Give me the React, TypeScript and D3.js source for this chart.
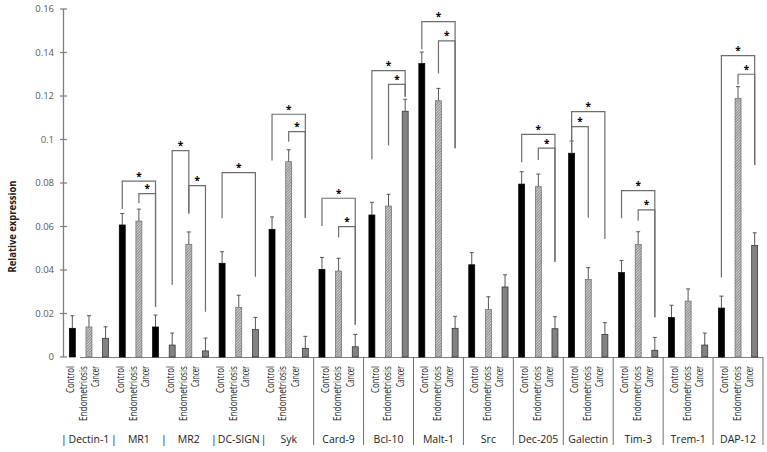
import React from 'react';
import * as d3 from 'd3';

const genes = ['Dectin-1', 'MR1', 'MR2', 'DC-SIGN', 'Syk', 'Card-9', 'Bcl-10', 'Malt-1', 'Src', 'Dec-205', 'Galectin', 'Tim-3', 'Trem-1', 'DAP-12'];
const conditions = ['Control', 'Endometriosis', 'Cancer'];

// which condition each of the three bars of a gene was drawn as (the first genes are mixed up)
const barSeries = [
  ['Control', 'Endometriosis', 'Cancer'],
  ['Control', 'Endometriosis', 'Control'],
  ['Cancer', 'Endometriosis', 'Cancer'],
  ['Control', 'Endometriosis', 'Cancer'],
  ['Control', 'Endometriosis', 'Cancer'],
  ['Control', 'Endometriosis', 'Cancer'],
  ['Control', 'Endometriosis', 'Cancer'],
  ['Control', 'Endometriosis', 'Cancer'],
  ['Control', 'Endometriosis', 'Cancer'],
  ['Control', 'Endometriosis', 'Cancer'],
  ['Control', 'Endometriosis', 'Cancer'],
  ['Control', 'Endometriosis', 'Cancer'],
  ['Control', 'Endometriosis', 'Cancer'],
  ['Control', 'Endometriosis', 'Cancer'],
];

const firstBar = [0.0132, 0.0607, 0.0055, 0.0431, 0.0587, 0.0403, 0.0653, 0.1349, 0.0424, 0.0795, 0.0937, 0.0388, 0.0181, 0.0225];
const secondBar = [0.0138, 0.0625, 0.0518, 0.0228, 0.0898, 0.0395, 0.0694, 0.1178, 0.0219, 0.0783, 0.0356, 0.0518, 0.0257, 0.1188];
const thirdBar = [0.0086, 0.0138, 0.0028, 0.0126, 0.004, 0.0047, 0.113, 0.0132, 0.0322, 0.013, 0.0104, 0.0031, 0.0055, 0.0513];

const firstErr = [0.0058, 0.0053, 0.0055, 0.0053, 0.0057, 0.0055, 0.0058, 0.0053, 0.0056, 0.0057, 0.0056, 0.0056, 0.0057, 0.0055];
const secondErr = [0.0052, 0.0055, 0.0057, 0.0056, 0.0055, 0.0059, 0.0054, 0.0057, 0.0058, 0.0058, 0.0055, 0.0058, 0.0056, 0.0055];
const thirdErr = [0.0053, 0.0055, 0.0059, 0.0056, 0.0055, 0.0057, 0.0055, 0.0055, 0.0056, 0.0055, 0.0054, 0.0059, 0.0055, 0.0058];

const yTicks = [0, 0.02, 0.04, 0.06, 0.08, 0.1, 0.12, 0.14, 0.16];
const yTickLabels = ['0', '0.02', '0.04', '0.06', '0.08', '0.1', '0.12', '0.14', '0.16'];

// [gene, from bar, to bar, bracket height, left leg end, right leg end]
const brackets: [number, number, number, number, number, number][] = [
  [1, 0, 2, 0.0809, 0.068, 0.0231],
  [1, 1, 2, 0.0751, 0.0707, 0.0231],
  [2, 0, 1, 0.0949, 0.0331, 0.066],
  [2, 1, 2, 0.0788, 0.066, 0.0208],
  [3, 0, 2, 0.0848, 0.0638, 0.0369],
  [4, 0, 2, 0.1116, 0.0903, 0.064],
  [4, 1, 2, 0.1036, 0.099, 0.064],
  [5, 0, 2, 0.073, 0.0602, 0.015],
  [5, 1, 2, 0.0599, 0.055, 0.015],
  [6, 0, 2, 0.1317, 0.0909, 0.1197],
  [6, 1, 2, 0.1253, 0.0972, 0.1197],
  [7, 0, 2, 0.1542, 0.1415, 0.096],
  [7, 1, 2, 0.1453, 0.1304, 0.096],
  [9, 0, 2, 0.1024, 0.0895, 0.0438],
  [9, 1, 2, 0.096, 0.0906, 0.0438],
  [10, 0, 2, 0.1128, 0.0937, 0.0543],
  [10, 0, 1, 0.1059, 0.0937, 0.064],
  [11, 0, 2, 0.0765, 0.0638, 0.0183],
  [11, 1, 2, 0.0676, 0.0627, 0.0183],
  [13, 0, 2, 0.1386, 0.0366, 0.0883],
  [13, 1, 2, 0.13, 0.1253, 0.0883],
];

const W = 767;
const H = 452;
const FONT = "'Open Sans', 'Noto Sans', sans-serif";

const App: React.FC = () => {
  const y = d3.scaleLinear().domain([0, 0.16]).range([357, 9]);
  const gx = d3.scaleBand<string>().domain(genes).range([64, 763]);
  const slots = d3.range(genes.length * 3);
  const x = d3.scaleBand<number>().domain(slots).range([64, 763]).paddingInner(0.64).paddingOuter(0.32);
  const fill = d3.scaleOrdinal<string, string>().domain(conditions).range(['#000', 'url(#hatch)', '#828282']);
  const stroke = d3.scaleOrdinal<string, string>().domain(conditions).range(['#000', '#6a6a6a', '#2a2a2a']);
  const labelLen = d3.scaleOrdinal<string, number>().domain(conditions).range([27, 55, 21]);

  const values = [firstBar, secondBar, thirdBar];
  const errs = [firstErr, secondErr, thirdErr];
  const bars = genes.flatMap((g, gi) =>
    [0, 1, 2].map((k) => ({ i: gi * 3 + k, series: barSeries[gi][k], v: values[k][gi], e: errs[k][gi] }))
  );
  const cx = (i: number) => (x(i) || 0) + x.bandwidth() / 2;

  // four label slots per gene in the first five genes, three afterwards
  const crowded = genes.slice(0, 5);
  const slotBand = d3.scaleBand<number>().domain(d3.range(20)).range([64, gx(genes[5]) || 0]);
  const labels = [
    ...crowded.flatMap((g, gi) =>
      [...conditions, 'Cancer'].map((c, k) => ({ text: c, x: (slotBand(gi * 4 + k) || 0) + slotBand.bandwidth() / 2, clip: k === 3 }))
    ),
    ...genes.slice(5).flatMap((g) =>
      conditions.map((c, k) => ({ text: c, x: (gx(g) || 0) + gx.bandwidth() / 2 - 1.5 + (k - 1) * 12.5, clip: false }))
    ),
  ];
  const clipped = labels.filter((l) => l.clip);

  return (
    <svg width={W} height={H} style={{ position: 'absolute', left: 0, top: 0, background: '#fff' }}>
      <defs>
        <pattern id="hatch" patternUnits="userSpaceOnUse" width="2" height="2" patternTransform="rotate(45)">
          <rect width="2" height="2" fill="#cfcfcf" />
          <line x1="0.5" y1="0" x2="0.5" y2="2" stroke="#858585" strokeWidth="0.9" />
        </pattern>
        {clipped.map((l, i) => (
          <clipPath id={`cut${i}`} key={i}>
            <rect x={l.x - 0.5} y={360} width={8} height={40} />
          </clipPath>
        ))}
      </defs>

      {/* y axis */}
      <line x1={63.5} x2={63.5} y1={y(0.16)} y2={y(0)} stroke="#7f7f7f" strokeWidth={1.3} />
      {yTicks.map((t, i) => (
        <g key={t}>
          <line x1={60} x2={67} y1={y(t)} y2={y(t)} stroke="#7f7f7f" strokeWidth={1.2} />
          <text x={54} y={y(t)} dy="0.35em" textAnchor="end" fontSize={9.5} fill="#595959" fontFamily={FONT}>
            {yTickLabels[i]}
          </text>
        </g>
      ))}
      <text
        transform={`translate(16,${y(0.06)}) rotate(-90)`}
        textAnchor="middle"
        fontSize={10}
        fontWeight="bold"
        fill="#222"
        fontFamily={FONT}
        textLength={92}
        lengthAdjust="spacingAndGlyphs"
      >
        Relative expression
      </text>

      {/* baseline */}
      <line x1={80} x2={763} y1={y(0) + 0.5} y2={y(0) + 0.5} stroke="#7f7f7f" strokeWidth={1.2} />

      {/* bars with upward error bars */}
      {bars.map((b) => (
        <g key={b.i}>
          <line x1={cx(b.i)} x2={cx(b.i)} y1={y(b.v)} y2={y(b.v + b.e)} stroke="#555" strokeWidth={1} />
          <line x1={cx(b.i) - 2} x2={cx(b.i) + 2} y1={y(b.v + b.e)} y2={y(b.v + b.e)} stroke="#555" strokeWidth={1} />
          <rect
            x={x(b.i)}
            y={y(b.v)}
            width={x.bandwidth()}
            height={y(0) - y(b.v)}
            fill={fill(b.series)}
            stroke={stroke(b.series)}
            strokeWidth={0.7}
          />
        </g>
      ))}

      {/* significance brackets */}
      {brackets.map(([g, a, z, top, le, re], i) => {
        const x1 = cx(g * 3 + a);
        const x2 = cx(g * 3 + z);
        return (
          <g key={i}>
            <path
              d={`M${x1},${y(le)}V${y(top)}H${x2}V${y(re)}`}
              fill="none"
              stroke="#6e6e6e"
              strokeWidth={1.2}
            />
            <text x={(x1 + x2) / 2} y={y(top) - 1.5} textAnchor="middle" fontSize={10} fontWeight="bold" fill="#000" fontFamily={FONT}>
              *
            </text>
          </g>
        );
      })}

      {/* category labels */}
      {labels.map((l, i) => (
        <text
          key={i}
          transform={`translate(${l.x},366) rotate(-90)`}
          textAnchor="end"
          dominantBaseline="central"
          fontSize={10}
          fill="#222"
          fontFamily={FONT}
          textLength={labelLen(l.text)}
          lengthAdjust="spacingAndGlyphs"
          clipPath={l.clip ? `url(#cut${clipped.indexOf(l)})` : undefined}
        >
          {l.text}
        </text>
      ))}

      {/* group separators and names */}
      {genes.slice(5).map((g) => (
        <line key={g} x1={gx(g)} x2={gx(g)} y1={y(0)} y2={445} stroke="#6e6e6e" strokeWidth={1} />
      ))}
      <line x1={763} x2={763} y1={y(0)} y2={445} stroke="#6e6e6e" strokeWidth={1} />
      {crowded.map((g) => (
        <text key={g} x={gx(g)} y={443} textAnchor="middle" fontSize={10.5} fill="#222" fontFamily={FONT}>
          |
        </text>
      ))}
      {genes.map((g) => (
        <text key={g} x={(gx(g) || 0) + gx.bandwidth() / 2} y={443} textAnchor="middle" fontSize={10.5} fill="#222" fontFamily={FONT}>
          {g}
        </text>
      ))}
    </svg>
  );
};

export default App;
